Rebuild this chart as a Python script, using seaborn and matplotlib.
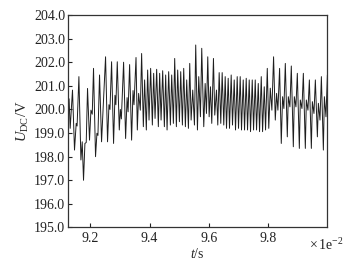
import numpy as np
import pandas as pd
import matplotlib
matplotlib.use("Agg")
import matplotlib.pyplot as plt
import seaborn as sns

# ---- data (time in units of 1e-2 s, voltage in V) ----
t_seg1 = [9.1257, 9.1287, 9.1324, 9.1402, 9.1470, 9.1527, 9.1557, 9.1618, 9.1686, 9.1730,
          9.1774, 9.1821, 9.1865, 9.1909, 9.1976, 9.2024, 9.2068, 9.2111, 9.2179, 9.2226,
          9.2260, 9.2314, 9.2382, 9.2439, 9.2517, 9.2584, 9.2632, 9.2666, 9.2720, 9.2787,
          9.2835, 9.2865, 9.2912, 9.2980, 9.3015, 9.3050, 9.3125, 9.3193, 9.3243, 9.3277,
          9.3328, 9.3395, 9.3443, 9.3476, 9.3544]
v_seg1 = [199.9, 200.45, 199.2, 200.82, 198.28, 199.41, 199.3, 201.39, 197.86, 198.63,
          197.0, 198.56, 198.6, 200.89, 198.7, 199.97, 199.8, 201.74, 198.0, 198.99,
          198.9, 201.46, 198.63, 200.11, 202.23, 198.63, 200.2, 200.0, 202.02, 198.56,
          200.6, 200.2, 202.02, 199.13, 200.0, 199.6, 202.0, 198.77, 200.5, 199.9,
          201.9, 198.7, 200.8, 200.2, 202.2]

t_seg2 = [9.3588, 9.3632, 9.3689, 9.3733, 9.3791, 9.3834, 9.3892, 9.3936, 9.3983, 9.4037,
          9.4095, 9.4139, 9.4186, 9.4240, 9.4297, 9.4341, 9.4389, 9.4443, 9.4500, 9.4544,
          9.4591, 9.4645, 9.4703, 9.4747, 9.4804, 9.4848, 9.4905, 9.4949, 9.5007, 9.5051,
          9.5108, 9.5152, 9.5209, 9.5253, 9.5311, 9.5355, 9.5402, 9.5456, 9.5514, 9.5557,
          9.5615, 9.5659, 9.5716, 9.5760]
v_seg2 = [199.13, 200.68, 199.97, 202.37, 199.27, 201.25, 199.13, 201.67, 199.55, 201.74,
          199.34, 201.53, 199.62, 201.7, 199.27, 201.53, 199.55, 201.64, 199.27, 201.46,
          199.13, 201.6, 199.34, 201.46, 199.41, 202.16, 199.27, 201.67, 199.48, 201.6,
          199.34, 201.74, 199.27, 201.25, 199.2, 201.95, 199.55, 200.82, 199.34, 202.73,
          199.13, 201.39, 199.69, 202.59]

t_seg3 = [9.5828, 9.5875, 9.5919, 9.5963, 9.6010, 9.6054, 9.6098, 9.6155, 9.6199, 9.6257,
          9.6301, 9.6348, 9.6402, 9.6449, 9.6503, 9.6551, 9.6595, 9.6652, 9.6696, 9.6753,
          9.6797, 9.6855, 9.6899, 9.6956, 9.7000, 9.7057, 9.7101, 9.7159, 9.7203, 9.7260,
          9.7304, 9.7361, 9.7405, 9.7463, 9.7507, 9.7564, 9.7608, 9.7666, 9.7709, 9.7767,
          9.7811, 9.7868, 9.7912, 9.7970]
v_seg3 = [199.27, 201.1, 199.83, 202.23, 199.69, 200.96, 199.41, 202.16, 199.76, 200.82,
          199.34, 201.56, 199.41, 201.56, 199.34, 201.39, 199.2, 201.32, 199.2, 201.46,
          199.34, 201.25, 199.13, 201.39, 199.2, 201.39, 199.13, 201.25, 199.13, 201.32,
          199.13, 201.25, 199.06, 201.25, 199.13, 201.25, 199.13, 201.1, 199.06, 201.39,
          199.06, 200.96, 199.13, 201.74]

t_seg4 = [9.8020, 9.8071, 9.8125, 9.8182, 9.8240, 9.8284, 9.8328, 9.8385, 9.8442, 9.8486,
          9.8530, 9.8578, 9.8645, 9.8679, 9.8733, 9.8780, 9.8848, 9.8882, 9.8936, 9.8983,
          9.9051, 9.9084, 9.9139, 9.9186, 9.9253, 9.9287, 9.9341, 9.9389, 9.9456, 9.9490,
          9.9544, 9.9591, 9.9659, 9.9693, 9.9747, 9.9794, 9.9861, 9.9895, 9.9949, 9.9997,
          10.0024]
v_seg4 = [199.2, 200.9, 199.97, 202.23, 199.55, 200.68, 199.97, 201.74, 198.56, 200.54,
          200.04, 201.95, 198.84, 200.54, 200.11, 201.84, 198.42, 200.54, 200.11, 201.53,
          198.35, 200.4, 200.04, 201.53, 198.35, 200.4, 199.97, 201.25, 198.35, 200.33,
          199.83, 201.25, 198.84, 200.26, 199.55, 201.39, 198.28, 200.54, 199.69, 201.46,
          200.4]

x_ticks = [9.2, 9.4, 9.6, 9.8]
x_tick_labels = ["9.2", "9.4", "9.6", "9.8"]
y_ticks = [195, 196, 197, 198, 199, 200, 201, 202, 203, 204]
y_tick_labels = ["195.0", "196.0", "197.0", "198.0", "199.0",
                 "200.0", "201.0", "202.0", "203.0", "204.0"]

df = pd.DataFrame({
    "t": t_seg1 + t_seg2 + t_seg3 + t_seg4,
    "U": v_seg1 + v_seg2 + v_seg3 + v_seg4,
})

# ---- style ----
sns.set_style("ticks")
plt.rcParams["font.family"] = ["Liberation Serif", "DejaVu Serif"]
plt.rcParams["mathtext.fontset"] = "custom"
plt.rcParams["mathtext.rm"] = "Liberation Serif"
plt.rcParams["mathtext.it"] = "Liberation Serif:italic"

fig = plt.figure(figsize=(3.55, 2.62), dpi=100)
ax = fig.add_axes([0.1915, 0.1317, 0.731, 0.811])

sns.lineplot(data=df, x="t", y="U", ax=ax, color="#1e1e1e", linewidth=0.7,
             estimator=None, sort=False)

ax.set_xlim(9.125, 10.0)
ax.set_ylim(195, 204)
ax.set_xticks(x_ticks)
ax.set_xticklabels(x_tick_labels)
ax.set_yticks(y_ticks)
ax.set_yticklabels(y_tick_labels)

ax.tick_params(direction="in", length=3, width=0.8, labelsize=10, colors="#222222", pad=2)
ax.tick_params(axis="x", pad=3)
for s in ax.spines.values():
    s.set_linewidth(0.9)
    s.set_color("#333333")

ax.set_xlabel(r"$t$/s", fontsize=10, labelpad=2)
ax.set_ylabel(r"$U_{\rm DC}$/V", fontsize=10.5, labelpad=2)

ax.text(0.995, -0.045, r"$\times\,\mathrm{1e^{-2}}$", transform=ax.transAxes,
        ha="center", va="top", fontsize=10, color="#222222")

fig.savefig("out.png", dpi=100)
